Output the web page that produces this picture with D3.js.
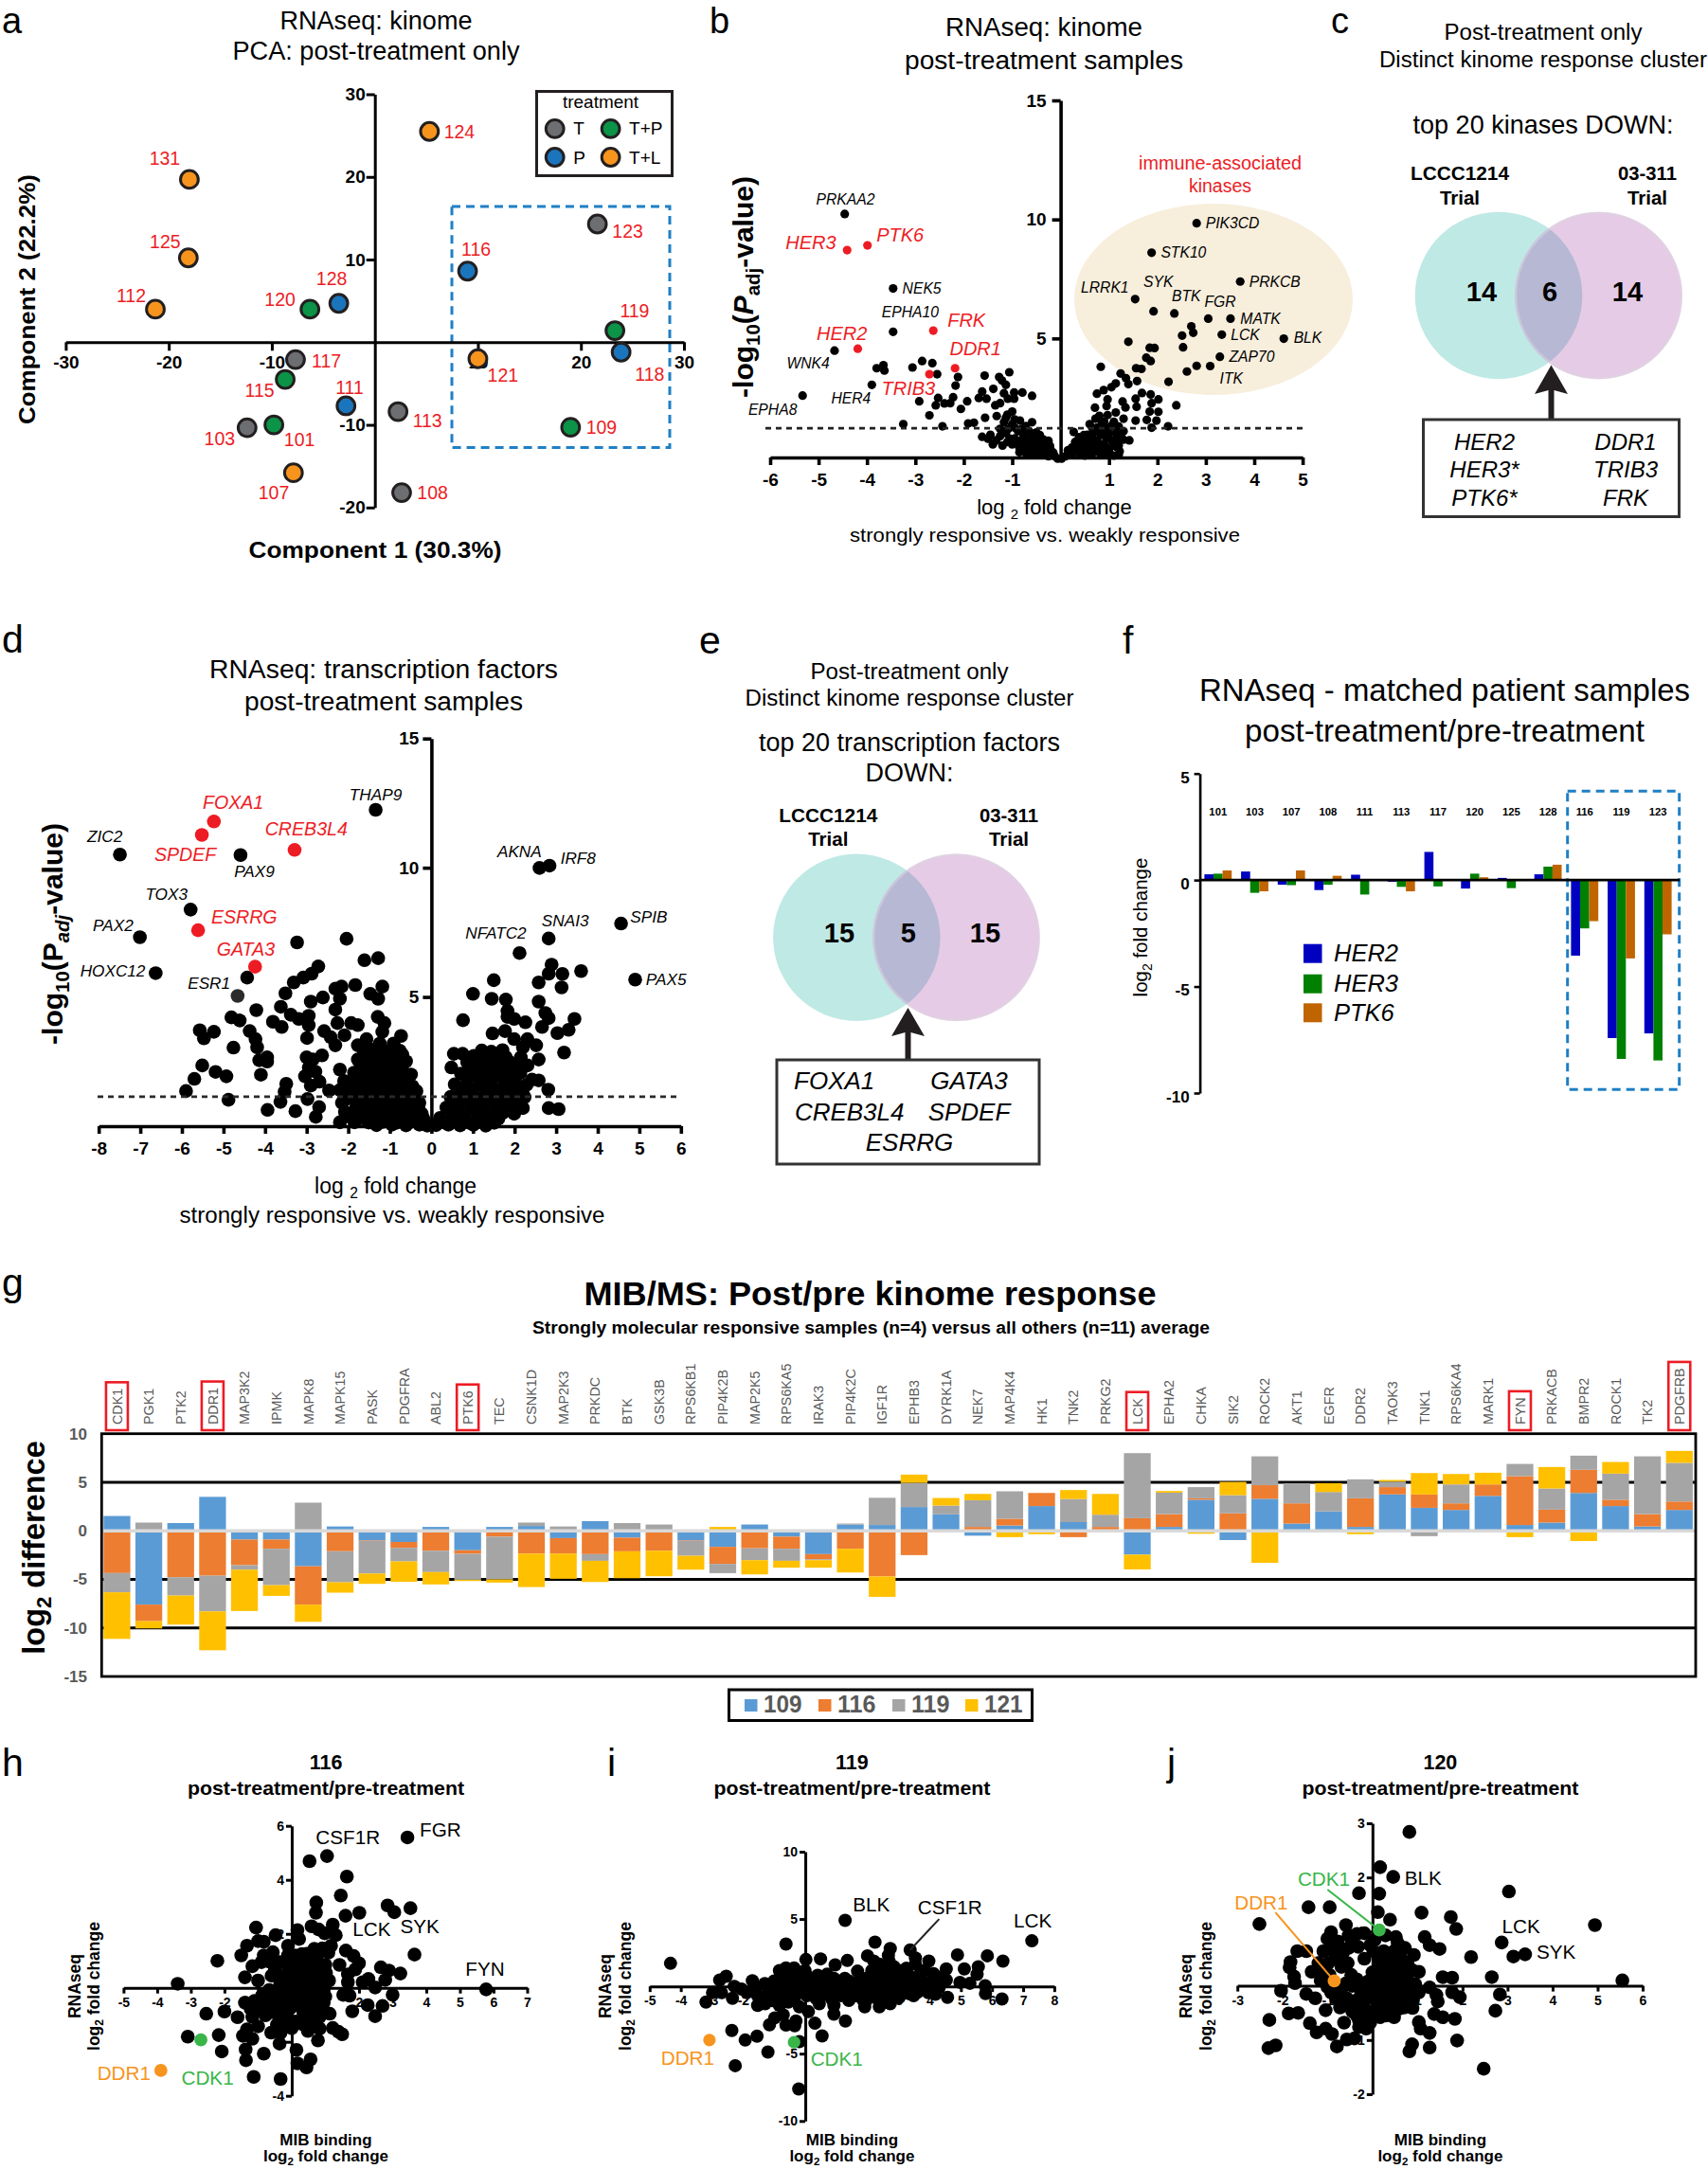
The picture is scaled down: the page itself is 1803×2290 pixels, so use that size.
<!DOCTYPE html>
<html><head><meta charset="utf-8">
<script src="https://cdn.jsdelivr.net/npm/d3@7"></script>
<style>html,body{margin:0;padding:0;background:#fff}svg{display:block;font-family:"Liberation Sans",Arial,sans-serif}</style>
</head><body><svg id="fig" width="1803" height="2290" viewBox="0 0 1803 2290"></svg>
<script>
/* ---------- DATA ---------- */
// a: PCA
const pcaSamples=["124","131","125","112","120","128","116","123","119","118","121","109","113","108","111","117","115","101","103","107"];
const pcaComp1=[5.3,-18.0,-18.1,-21.3,-6.3,-3.5,9.0,21.6,23.3,23.9,10.0,19.0,2.25,2.6,-2.8,-7.7,-8.7,-9.8,-12.4,-7.9];
const pcaComp2=[25.5,19.7,10.2,4.0,4.0,4.7,8.6,14.3,1.4,-1.2,-2.0,-10.3,-8.4,-18.2,-7.7,-2.1,-4.5,-10.0,-10.35,-15.8];
const pcaTreatment=["T+L","T+L","T+L","T+L","T+P","P","P","T","T+P","P","T+L","T+P","T","T","P","T","T+P","T+P","T","T+L"];
const treatments=["T","T+P","P","T+L"];
// b: kinome volcano
const kinomeNames=["PRKAA2","HER3","PTK6","NEK5","EPHA10","FRK","HER2","WNK4","DDR1","TRIB3","HER4","EPHA8","PIK3CD","STK10","PRKCB","LRRK1","SYK","BTK","FGR","MATK","LCK","BLK","ZAP70","ITK"];
const kinomeFC=[-4.46,-4.41,-3.99,-3.46,-3.46,-2.63,-4.19,-4.67,-2.18,-2.71,-3.90,-5.33,2.81,1.88,3.71,1.54,1.92,2.35,3.05,3.51,3.33,4.61,3.29,3.09];
const kinomeP=[10.23,8.71,8.91,7.10,5.28,5.33,4.57,4.49,3.75,3.50,3.05,2.60,9.84,8.60,7.39,6.65,6.14,6.05,5.83,5.83,5.16,4.99,4.23,3.84];
const kinomeRed=["HER3","PTK6","FRK","HER2","DDR1","TRIB3"];
const kinomeOther=[[2.70,5.51],[2.74,5.24],[2.51,5.12],[2.53,4.63],[1.40,4.86],[1.84,4.61],[1.94,4.60],[1.77,4.19],[1.86,4.05],[2.81,3.85],[2.61,3.61],[2.23,3.18],[.83,3.81],[1.56,3.75],[1.67,3.72],[1.24,3.53],[1.35,3.33],[1.58,3.21],[1.14,3.11],[1.40,3.08],[1.05,2.95],[.89,2.83],[.75,2.68],[1.68,2.71],[1.86,2.65],[1.55,2.47],[1.28,2.35],[.97,2.44],[2.02,2.44],[1.88,2.28],[2.39,2.19],[.95,2.16],[1.34,2.1],[1.57,2.13],[.71,2.09],[1.84,1.93],[2.02,1.92],[1.14,1.89],[.97,1.78],[1.3,1.63],[1.55,1.55],[1.98,1.55],[1.78,1.58],[2.22,1.31],[1.88,1.25],
[-3.80,3.75],[-3.66,3.88],[-3.64,3.65],[-3.06,3.78],[-2.86,4.05],[-2.65,3.96],[-2.55,3.5],[-2.12,3.38],[-2.17,3.02],[-2.53,2.5],[-2.22,2.53],[-2.92,2.36],[-2.58,2.19],[-2.40,2.27],[-2.28,2.28],[-1.93,2.36],[-2.06,2.04],[-2.71,1.77],[-3.25,1.40],[-2.44,1.31],[-1.91,1.43],[-1.79,1.46],[-1.57,3.44],[-1.27,3.38],[-1.06,3.58],[-1.21,3.23],[-1.13,3.05],[-1.39,2.88],[-1.62,2.77],[-1.69,2.5],[-1.53,2.47],[-1.17,2.7],[-.96,2.73],[-.79,2.73],[-.59,2.59],[-1.09,2.47],[-.96,2.47],[-1.25,2.28],[-1.35,2.19],[-1.0,1.93],[-1.32,1.74],[-1.56,1.67],[-1.13,1.67],[-1.17,1.48],[-.84,1.55],[-1.0,1.4],[-.59,1.48],[-.72,1.32],[-1.62,.87],[-1.5,.79],[-1.33,.72],[-1.13,1.02],[-1.05,.79],[-.88,1.1],[-.76,.94],[-.59,.87],[-.43,.94],[-.92,.61],[-.72,.52],[-.55,.46],[-.43,.64],[-.35,.33],[-.22,.49],[-.47,.11],[-.18,.11],[-.06,-.05],[.02,-.05],[-.3,.2],[-.62,.25],[-.85,.4],[-1.0,.55],[-.25,.05],
[-.95,1.25],[-.8,1.2],[-.65,1.1],[-.5,1.05],[-.35,.75],[-.25,.7],[-1.25,.9],[-1.1,.65],[-.95,.8],[-.8,.75],[-.65,.7],[-.5,.68],[-.85,.55],[-.7,.4],[-.6,.6],[-.45,.35],[-.35,.5],[-.2,.3],[-.15,.2],[-.12,.05],[-.4,.2],[-.55,.12],[-.7,.1],[-.85,.22],[-.78,.3],[-1.4,.55],[-1.2,.5],[-1.45,.95],[-1.25,1.2],[-1.08,1.2],[-.95,1.6],[-1.1,1.8],
[.27,1.07],[.23,.41],[.35,.56],[.48,.94],[.6,1.4],[.72,1.63],[.85,1.48],[.52,.56],[.68,1.1],[.81,1.02],[.93,1.25],[1.05,1.32],[1.14,1.02],[1.3,1.1],[1.42,.72],[1.05,.72],[.89,.56],[.72,.33],[1.22,.26],[.81,.18],[.56,.18],[.4,.18],[.19,.11],[1.01,.18],[.6,.79],[.44,.72],[.89,.94],[.3,.25],[.62,.42],[.76,.72],[1.15,.45],[.1,.05],
[.15,.3],[.28,.4],[.35,.3],[.45,.45],[.5,.3],[.6,.55],[.68,.6],[.75,.45],[.85,.4],[.95,.42],[1.1,.5],[1.2,.5],[1.3,.75],[.55,.95],[.65,.9],[.75,1.25],[.85,1.2],[1.0,1.0],[.95,.8],[1.15,.75],[1.25,.88],[.65,1.25],[.8,1.75],[.9,1.5],[1.1,1.5],[1.2,1.3],[.38,.85],[.3,.65],[.15,.18],[.25,.12],[.5,.08],[.65,.15],[.9,.1],[1.1,.08],[1.2,.1],[1.0,.35]];
// d: transcription factor volcano
const tfNames=["THAP9","FOXA1","SPDEF","CREB3L4","ZIC2","PAX9","AKNA","IRF8","TOX3","ESRRG","PAX2","SNAI3","SPIB","NFATC2","GATA3","HOXC12","PAX5","ESR1"];
const tfFC=[-1.34,-5.23,-5.52,-3.29,-7.49,-4.59,2.6,2.84,-5.79,-5.61,-7.01,2.82,4.56,2.12,-4.24,-6.63,4.9,-4.66];
const tfP=[12.24,11.79,11.27,10.69,10.51,10.49,9.99,10.08,8.38,7.58,7.31,7.26,7.84,6.7,6.17,5.92,5.67,5.04];
const tfRed=["FOXA1","SPDEF","CREB3L4","ESRRG","GATA3"];
const tfOther=[[-3.23,7.11],[-2.04,7.25],[-4.43,5.75],[-1.61,6.42],[-1.28,6.5],[-2.72,6.18],[-2.88,5.9],[-3.08,5.75],[-3.31,5.56],[-3.51,5.14],[-2.61,4.98],[-2.9,4.82],[-2.31,5.32],[-2.16,5.4],[-1.83,5.46],[-1.18,5.4],[-1.47,5.12],[-1.28,4.93],[-2.2,4.93],[-2.31,4.51],[-3.62,4.62],[-4.21,4.49],[-4.81,4.21],[-4.61,4.09],[-3.81,4.04],[-3.38,4.31],[-3.19,4.15],[-2.95,4.27],[-3.6,3.84],[-2.95,3.91],[-2.26,3.99],[-1.93,3.99],[-1.77,3.91],[-1.29,4.23],[-1.13,3.99],[-1.18,3.65],[-2.58,3.68],[-2.42,3.44],[-2.09,3.52],[-2.31,3.13],[-2.99,3.41],[-4.37,3.68],[-5.57,3.71],[-5.23,3.65],[-5.47,3.4],[-4.23,3.37],[-4.19,3.05],[-4.76,3.04],[-3.95,2.66],[-4.14,2.55],[-3.95,2.5],[-5.51,2.35],[-5.19,2.1],[-4.93,1.93],[-5.7,1.83],[-5.9,1.36],[-4.1,1.99],[-4.88,1.02],[-3.94,.63],[-3.63,.94],[-3.49,1.64],[-3.53,1.33],[-3.27,.58],[-2.78,.36],[-2.7,.74],[-2.98,1.05],[-2.46,1.38],[-3.04,1.93],[-2.9,1.57],[-3.0,2.66],[-2.63,2.74],[-2.85,2.58],[-2.95,2.27],[-2.79,2.11],[-2.69,1.72],[-.73,3.49],[-.91,3.2],[-1.77,3.13],[-1.56,3.37],[-1.24,3.2],[-.7,2.77],[-1.02,2.9],[-1.45,2.97],[-1.77,2.58],[-2.2,2.19],[-2.1,1.75],[-2.2,1.4],[-2.05,1.05],[-2.08,.55],
[-1.62,2.88],[-1.3,2.94],[-.98,2.86],[-.76,2.92],[-1.74,2.52],[-1.43,2.47],[-1.16,2.55],[-.84,2.48],[-.61,2.51],[-1.86,2.07],[-1.56,2.02],[-1.24,2.09],[-.96,2.03],[-.66,2.06],[-.49,2.0],[-1.93,1.62],[-1.66,1.58],[-1.36,1.64],[-1.04,1.57],[-.74,1.62],[-.46,1.55],[-1.9,1.17],[-1.61,1.13],[-1.29,1.18],[-1.01,1.12],[-.69,1.16],[-.41,1.11],[-1.81,.72],[-1.49,.68],[-1.21,.73],[-.9,.67],[-.62,.71],[-.31,.68],[-1.69,.31],[-1.36,.28],[-1.04,.33],[-.76,.27],[-.44,.31],[-.19,.29],[-1.32,.04],[-.95,.06],[-.61,.03],[-.29,.06],[-.1,.02],
[-1.5,2.72],[-1.18,2.68],[-.94,2.74],[-.7,2.66],[-1.59,2.28],[-1.31,2.32],[-1.02,2.27],[-.71,2.31],[-1.71,1.83],[-1.41,1.87],[-1.09,1.82],[-.81,1.86],[-.56,1.81],[-1.79,1.38],[-1.51,1.42],[-1.19,1.37],[-.91,1.41],[-.59,1.38],[-.36,1.36],[-1.76,.93],[-1.44,.97],[-1.16,.92],[-.84,.96],[-.56,.93],[-.29,.91],[-1.64,.51],[-1.36,.48],[-1.06,.52],[-.74,.47],[-.46,.51],[-.23,.48],[-1.51,.14],[-1.16,.17],[-.84,.13],[-.51,.16],[-.2,.13],[-2.0,1.3],[-2.15,.9],[-1.95,.35],[-2.2,.15],[-1.85,.15],
[3.6,6.0],[2.89,6.25],[2.82,5.9],[3.15,5.89],[2.58,5.56],[3.13,5.37],[1.5,5.65],[1.0,5.12],[1.45,4.93],[1.79,4.9],[2.58,4.82],[2.74,4.38],[1.83,4.46],[1.83,4.23],[1.99,4.15],[2.26,4.02],[.76,4.1],[2.82,4.18],[2.66,3.84],[3.44,4.15],[3.3,3.73],[3.03,3.6],[3.19,2.85],[1.47,3.59],[1.77,3.68],[1.99,3.37],[2.31,3.37],[2.52,3.13],[2.2,3.05],[2.58,2.58],[2.31,2.35],[2.15,2.66],[.54,2.8],[.75,2.8],[.48,2.27],[2.42,1.8],[2.58,1.77],[2.81,1.41],[2.82,.7],[3.06,.66],[2.2,.7],[1.93,.78],[1.45,.23],
[1.21,2.93],[1.44,2.88],[1.71,2.94],[.86,2.47],[1.12,2.53],[1.38,2.46],[1.66,2.52],[1.89,2.47],[.71,2.03],[1.02,2.08],[1.28,2.02],[1.61,2.07],[1.88,2.01],[2.14,2.06],[.56,1.62],[.84,1.57],[1.16,1.63],[1.44,1.58],[1.76,1.61],[2.04,1.56],[2.29,1.6],[.46,1.13],[.74,1.17],[1.06,1.12],[1.34,1.16],[1.66,1.13],[1.94,1.17],[2.24,1.12],[.36,.72],[.64,.68],[.96,.71],[1.24,.67],[1.56,.72],[1.84,.68],[.21,.32],[.49,.28],[.81,.31],[1.09,.27],[1.41,.32],[1.61,.29],[.11,.04],[.41,.06],[.69,.03],[1.01,.05],[1.31,.02],
[1.02,2.72],[1.29,2.68],[1.56,2.73],[1.79,2.67],[.94,2.28],[1.26,2.33],[1.51,2.27],[1.79,2.32],[2.06,2.28],[.86,1.83],[1.14,1.87],[1.46,1.82],[1.74,1.86],[2.01,1.83],[.71,1.38],[.99,1.42],[1.31,1.37],[1.59,1.41],[1.91,1.38],[2.19,1.36],[.61,.93],[.89,.97],[1.21,.92],[1.49,.96],[1.81,.93],[2.09,.91],[.51,.51],[.79,.48],[1.11,.52],[1.39,.47],[1.71,.51],[1.99,.48],[.31,.14],[.59,.17],[.91,.13],[1.19,.16],[1.51,.13]];
// f: matched bars
const matchedSamples=["101","103","107","108","111","113","117","120","125","128","116","119","123"];
const matchedHER2=[.27,.4,-.22,-.47,.25,-.08,1.32,-.4,.1,.27,-3.55,-7.42,-7.2];
const matchedHER3=[.3,-.6,-.24,-.22,-.68,-.32,-.3,.3,-.38,.63,-2.27,-8.4,-8.47];
const matchedPTK6=[.45,-.53,.45,.2,0,-.53,0,.13,-.04,.72,-1.93,-3.68,-2.55];
const matchedSeries=["HER2","HER3","PTK6"];
// g: MIB/MS stacked bars
const mibGenes=["CDK1","PGK1","PTK2","DDR1","MAP3K2","IPMK","MAPK8","MAPK15","PASK","PDGFRA","ABL2","PTK6","TEC","CSNK1D","MAP2K3","PRKDC","BTK","GSK3B","RPS6KB1","PIP4K2B","MAP2K5","RPS6KA5","IRAK3","PIP4K2C","IGF1R","EPHB3","DYRK1A","NEK7","MAP4K4","HK1","TNK2","PRKG2","LCK","EPHA2","CHKA","SIK2","ROCK2","AKT1","EGFR","DDR2","TAOK3","TNK1","RPS6KA4","MARK1","FYN","PRKACB","BMPR2","ROCK1","TK2","PDGFRB"];
const mibBoxed=["CDK1","DDR1","PTK6","LCK","FYN","PDGFRB"];
const mib109=[1.53,-7.6,.8,3.5,-.9,-.9,-3.65,.45,-1.0,-1.15,.4,-2.0,.4,.5,-.75,1.0,-.7,0,-1.0,-1.65,.65,-.6,-2.4,.65,.6,2.45,1.7,-.5,.55,2.55,.9,0,-2.45,.4,3.2,-.95,3.3,.75,2.0,.4,3.75,2.37,2.15,3.6,.6,.85,3.9,2.55,.45,2.15];
const mib116=[-4.35,-1.7,-4.78,-4.62,-2.64,-.95,-3.95,-2.1,-.05,-.6,-2.05,-.37,-.6,-2.35,-1.59,-2.4,-1.41,-2.05,-.05,-1.76,-1.8,-1.25,-.53,-1.85,-4.7,-2.5,-.15,.4,.69,1.35,-.65,.4,1.3,1.32,.15,1.8,1.4,2.08,0,2.95,.75,1.37,.68,1.18,5.03,1.33,2.38,.65,1.27,.87];
const mib119=[-1.98,.85,-1.89,-3.68,-.46,-3.75,2.9,-3.2,-3.35,-1.4,-2.2,-2.67,-4.4,.35,.45,-.69,.8,.65,-1.52,-.95,-1.22,-1.24,-.09,.1,2.8,2.49,.9,2.75,2.83,0,2.38,1.26,6.7,2.21,1.15,1.87,2.97,2.07,2.0,1.95,.57,-.55,1.95,0,1.26,2.18,1.46,2.69,5.95,3.98];
const mib121=[-4.8,-.75,-2.99,-4.0,-4.26,-1.1,-1.77,-1.07,-1.06,-2.1,-1.27,-.13,-.33,-3.44,-2.6,-2.18,-2.77,-2.63,-1.43,.4,-1.47,-.71,-.78,-2.44,-2.1,.85,.78,.65,-.65,-.35,.92,2.14,-1.52,.17,-.3,1.37,-3.3,0,.9,-.35,.17,2.21,1.07,1.2,-.65,2.21,-1.05,1.2,0,1.23];
const mibSamples=["109","116","119","121"];
// h: sample 116
const s116Named=["FGR","CSF1R","FYN"], s116NamedX=[3.44,1.05,5.78], s116NamedY=[5.57,4.88,-.06];
const s116Highlight=[["DDR1",-3.89,-3.06],["CDK1",-2.7,-1.93]];
const s116Other=[[.53,4.69],[1.64,4.12],[1.46,3.42],[.73,3.16],[.72,2.78],[1.6,2.67],[2.01,2.78],[2.85,3.05],[3.05,2.8],[3.53,2.95],[3.65,1.23],[-3.39,.15],[-2.21,1.0],[-1.06,2.23],[-.48,1.95],[.17,2.14],[.22,1.81],[.59,2.28],[.8,2.16],[.98,2.02],[1.22,2.34],[1.31,1.95],[-1.0,1.73],[-.83,1.71],[-1.33,1.56],[-1.5,1.2],[-.11,1.56],[1.17,1.56],[1.09,1.3],[.67,1.44],[.44,1.26],[.91,1.46],[1.61,1.38],[1.84,1.18],[2.0,.91],[1.89,.68],[1.42,.85],[2.65,.76],[2.89,.64],[3.23,.53],[2.78,.29],[2.28,.33],[2.11,.21],[2.48,.01],[1.67,.5],[1.67,.21],[3.0,-.26],[2.26,-.64],[2.7,-.67],[2.48,-1.05],[1.8,-.87],[1.53,-.26],[1.72,-.29],[1.13,-.96],[1.22,-1.49],[1.5,-1.72],[1.39,-1.63],[.78,-1.95],[.83,-1.51],[.61,-1.45],[.14,-2.3],[.56,-2.65],[.17,-2.8],[.44,-2.95],[-.33,-3.38],[-1.13,-3.3],[-.83,-2.44],[-1.36,-2.68],[-1.37,-2.28],[-2.08,-2.36],[-2.17,-1.75],[-3.09,-1.81],[-2.54,-.96],[-2.0,-.88],[-1.61,-1.09],[-1.45,-1.78],[-1.17,-1.89],[-1.33,-1.54],[-.36,-2.07],[-.61,-1.66],[-.33,-1.66],[-1.0,-1.43],[-.78,-1.02],[-1.17,-1.08],[-1.39,-.55],[-1.11,-.49],[-1.22,-.78],[-1.39,.39],[-1.17,.8],[-1.0,.27],[-.83,1.2],[-.56,1.32],[-.67,.97],[-.5,.68],[-.39,.39],[-.11,1.2],[.11,1.2],[-.11,.8],[.11,.85],[.33,.62],[.56,.85],[.78,.97],[1.0,.85],[.22,.27],[.44,.15],[.67,.39],[.89,.5],[1.11,.27],[-.67,-.08],[-.33,-.32],[-.56,-.55],[-.11,-.2],[.22,-.2],[.44,-.2],[.78,-.14],[1.0,-.32],[-.33,-.67],[-.06,-.78],[.22,-.67],[.56,-.67],[.89,-.67],[-.56,-.9],[-.22,-1.13],[.11,-1.25],[.56,-1.13],[.83,-1.08],[-.44,-1.37],[-.88,-.28],[-.2,.45],[.3,.55],[.55,.3],[.72,.1],[.3,-.45],[.6,-.4],[.4,.95],[-.35,.95],[-.9,.95],[.0,.1],[-.15,-.5],[.75,.55],[.2,1.0],
[.05,.55],[.3,.2],[.12,-.05],[.55,.05],[.92,.15],[.95,-.1],[.62,-.18],[.35,-.95],[.68,-.88],[.05,-.45],[-.15,-.95],[.32,-1.35],[.68,-1.3],[-.6,-.25],[-.35,.1],[-.6,.45],[.95,-.55],[.72,-.95],[1.02,.55],[.45,.6],[.25,.9],[-.1,.25],[-.4,-1.0],[-.72,-.65],[-.95,-.75],[.0,-1.5],[-.25,-1.45],[.48,-1.6],[.3,1.25],[.75,1.25]];
// i: sample 119
const s119Named=["BLK","CSF1R","LCK"], s119NamedX=[1.28,3.37,7.28], s119NamedY=[4.9,2.7,3.38];
const s119Highlight=[["DDR1",-3.08,-3.99],["CDK1",-.36,-4.15]];
const s119Other=[[2.24,3.28],[-.62,3.14],[-4.33,1.71],[2.73,2.81],[4.89,2.34],[5.85,2.27],[6.35,1.88],[.49,2.04],[.02,1.99],[1.35,1.92],[.96,1.59],[2.0,2.27],[2.67,2.3],[3.54,2.11],[3.97,1.88],[1.68,1.13],[4.53,1.29],[5.11,1.29],[5.56,1.45],[5.52,.89],[4.53,.47],[4.97,.3],[5.29,.23],[5.78,.05],[5.79,-.54],[6.32,-.94],[4.57,-.82],[4.18,-.59],[1.29,-2.58],[.92,-2.06],[.31,-2.74],[.54,-3.68],[.1,-1.88],[-.19,-1.52],[-.3,-2.58],[-.34,-2.93],[-.62,-2.88],[-.71,-2.11],[-.98,-2.34],[-1.15,-2.86],[-1.55,-3.7],[-1.93,-3.99],[-2.36,-3.28],[-1.2,-4.88],[-2.25,-5.89],[-.21,-7.62],[-.19,-4.1],[-2.75,.47],[-2.54,.75],[-2.28,0],[-1.7,.42],[-2.98,-.47],[-3.19,-1.17],[-2.69,-.47],[-2.34,-.89],[-1.88,-.47],[-1.53,-.7],[-1.53,-1.41],[-1.29,-1.29],[-1.06,-1.06],[-.83,-1.41],[-.54,-1.17],[-1.0,0],[-.83,1.17],[-.62,1.36],[-.36,1.36],[-.83,.59],[-.54,.59],[-.3,.7],[-.01,1.17],[.4,.82],[.16,.23],[.57,.23],[.92,.59],[1.27,.59],[1.15,0],[1.5,.12],[1.85,0],[2.2,1.88],[2.38,1.64],[2.14,1.17],[2.55,.82],[3.02,1.17],[3.37,.7],[3.54,1.64],[3.83,1.17],[4.12,.94],[4.36,.7],[2.9,.35],[2.55,0],[2.2,.23],[3.25,0],[3.6,-.12],[3.95,0],[-1.18,-.47],[-.71,-.47],[-.24,-.47],[.22,-.47],[.69,-.59],[1.15,-.7],[1.62,-.7],[1.91,-1.52],[2.38,-1.52],[2.09,-.82],[2.73,-1.29],[3.02,-.82],[3.48,-.7],[3.95,-.47],[.92,-1.41],[.45,-1.29],[.05,-.7],[2.73,-.47],[3.19,-.47],[-1.3,.2],[-.6,.1],[-.2,.1],[.4,-.05],[.8,-.1],[1.35,-.35],[1.75,-.25],[2.35,-.3],[2.9,.85],[3.1,.25],[3.7,.5],[4.1,.4],[2.6,1.4],[3.25,1.35],[3.7,.95],[-2.05,-.2],[-1.65,-.2],[-.95,-.75],[-.55,-.85],[1.9,.55],[2.4,.5],[3.35,-.55],[4.3,-.1],[2.7,1.85],[.1,.7],[.7,.9],[-.1,-.15],
[-1.4,-.85],[-.85,-1.0],[-.35,-.95],[.35,-.9],[.85,-.95],[1.4,-1.05],[1.85,-1.0],[2.35,-1.0],[-.75,.95],[-.45,1.0],[-.6,.3],[-.3,.25],[.05,.35],[.35,.45],[.75,.3],[1.05,.35],[1.4,.4],[1.7,.35],[2.05,.7],[2.35,1.05],[2.7,.45],[3.0,.55],[3.3,.35],[3.55,.2],[3.85,.25],[2.45,-.65],[2.85,-.4],[3.15,-.1],[1.0,-.35],[.5,-.25],[.05,-.3],[-.45,-.2],[-.85,-.2],[-1.55,-.05],[1.55,-.4],[1.95,-.45],[2.2,-.6],[3.6,-.45],[3.3,.9],[2.85,1.45],[2.35,.4],[.25,.4],[-1.0,.4]];
// j: sample 120
const s120Named=["BLK","SYK"], s120NamedX=[.46,3.39], s120NamedY=[2.01,.58];
const s120Highlight=[["DDR1",-.85,.09],["CDK1",.15,1.03]];
const s120Other=[[.82,2.84],[.17,2.19],[3.03,1.74],[-.3,1.71],[.15,1.7],[-1.42,1.45],[-.95,1.45],[.12,1.36],[.39,1.22],[1.09,1.35],[1.74,1.27],[1.86,1.05],[-2.51,1.14],[4.94,1.12],[-.59,1.12],[-.92,.99],[2.87,.8],[3.13,.54],[2.19,.53],[1.16,.9],[1.27,.75],[1.49,.68],[.92,.57],[.56,.79],[.72,.7],[.64,.5],[2.65,.16],[5.55,.1],[1.56,.16],[1.77,.15],[2.83,-.16],[2.73,-.46],[1.94,-.21],[1.77,-.12],[1.45,-.29],[1.27,-.03],[1.42,-.17],[.89,-.41],[1.37,-.52],[1.56,-.58],[1.83,-.61],[.48,-.58],[1.03,-.67],[1.07,-.79],[1.27,-.87],[1.88,-1.01],[.88,-1.08],[.82,-1.21],[1.27,-1.14],[2.47,-1.53],[-2.31,-1.15],[-2.15,-1.1],[-2.29,-.63],[-1.86,-.51],[-1.65,-.5],[-1.39,-.69],[-1.24,-.86],[-1.04,-.79],[-.9,-.89],[-.63,-.68],[-1.04,-.45],[-.79,-1.12],[-.57,-.99],[-.4,-.97],[-2.03,-.09],[-1.72,.05],[-1.74,.17],[-1.82,.44],[-1.84,.34],[-1.67,.64],[-1.47,.64],[-1.35,.26],[-1.47,-.15],[-1.27,-.23],[-1.09,.64],[-1.0,.87],[-.77,.82],[-.8,.52],[-.69,.35],[-.47,.2],[-.53,.93],[-.34,.96],[-.18,.97],[-.53,.7],[-.18,.5],[.02,.64],[.25,.64],[.29,.93],[.17,.35],[.37,.41],[.56,.29],[.88,.29],[1.03,.26],[.02,.17],[.25,.15],[.48,.12],[.72,.15],[.95,.03],[.09,-.06],[.33,-.09],[.56,-.06],[.8,-.12],[1.03,-.12],[-.45,0],[-.69,-.06],[-.22,-.03],[-.92,-.12],[-.57,-.23],[-.34,-.26],[-.14,-.23],[.09,-.29],[.33,-.29],[.56,-.26],[-.81,-.23],[-.45,-.47],[-.22,-.47],[.02,-.47],[.25,-.44],[.48,-.41],[-.3,-.64],[-.1,-.64],[-.3,-.76],[-.14,-.79],[.17,-.58],[-1.2,.42],[-.95,.2],[-1.15,.1],[-.98,.42],[-.55,.42],[.15,.5],[.4,.6],[.05,.85],[.4,-.2],[-.72,-.4],[-.58,.05],[.7,-.4],[-.9,.65],[.48,.48],
[.0,.25],[.28,.25],[.62,.38],[.78,.4],[.22,.02],[.62,.02],[.85,.05],[-.1,.08],[-.35,.12],[-.78,-.05],[-.25,-.12],[-.05,-.12],[.2,-.18],[.45,-.15],[.68,-.2],[.9,-.25],[-.68,-.32],[-.45,-.3],[-.2,-.35],[.2,-.38],[.38,-.42],[.6,-.42],[-.35,-.55],[-.1,-.5],[.1,-.45],[.3,-.55],[.45,-.3],[-.05,-.68],[.1,.12],[.45,.3],[.7,.28],[.3,.52],[.5,.65],[-.32,.72],[-.65,.62],[-.45,.82],[-.05,.75],[.52,.9],[-1.1,.25],[-1.0,-.02]];
const s120Lck=[2.87,.8];

/* ---------- HELPERS ---------- */
const svg=d3.select("#fig");
const RED="#ed1c24",ORANGE="#f7941d",GREEN="#39b54a",BLUEDASH="#1f7fc4";
function T(g,s,x,y,o={}){
  const t=g.append("text").attr("x",x).attr("y",y).attr("font-size",o.size||16)
    .attr("text-anchor",o.anchor||"middle").attr("fill",o.fill||"#000");
  if(o.bold)t.attr("font-weight","bold");
  if(o.italic)t.attr("font-style","italic");
  if(o.rot)t.attr("transform",`rotate(${o.rot} ${x} ${y})`);
  if(o.dy)t.attr("dy",o.dy);
  if(typeof s==="string"){t.text(s);if(o.w)t.attr("textLength",o.w).attr("lengthAdjust","spacingAndGlyphs");}
  else{
    let shift=0;const sz=o.size||16;
    s.forEach(seg=>{
      const sp=t.append("tspan").text(seg.t);
      let d=-shift;
      if(seg.sub){sp.attr("font-size",sz*.68);shift=sz*.22;d+=shift;}else shift=0;
      if(d)sp.attr("dy",d);
      if(seg.italic)sp.attr("font-style","italic");
    });
  }
  return t;
}
function styleAxis(sel,w,size,bold=true){
  sel.selectAll("path.domain,line").attr("stroke","#000").attr("stroke-width",w);
  sel.selectAll("text").attr("font-size",size).attr("font-weight",bold?"bold":"normal").attr("fill","#000").attr("font-family",'"Liberation Sans"');
}
function dots(g,data,x,y,r,fill){
  g.selectAll(null).data(data).join("circle").attr("cx",d=>x(d[0])).attr("cy",d=>y(d[1])).attr("r",r).attr("fill",fill);
}
const fmt=d=>String(d);
const letters=[["a",2,35,38],["b",749,35,38],["c",1405,35,38],["d",2,689,41],["e",738,690,41],["f",1185,690,41],["g",2,1368,41],["h",2,1875,41],["i",641,1875,41],["j",1232,1875,41]];
letters.forEach(l=>T(svg,l[0],l[1],l[2],{size:l[3],anchor:"start"}));

/* ---------- PANEL a ---------- */
(function(){
  const g=svg.append("g");
  const x=d3.scaleLinear().domain([-30,30]).range([69.4,722]);
  const y=d3.scaleLinear().domain([-20,30]).range([535.8,99.5]);
  T(g,"RNAseq: kinome",397,31,{size:27,w:203});
  T(g,"PCA: post-treatment only",397,63,{size:27,w:303});
  g.append("rect").attr("x",477).attr("y",218).attr("width",230).attr("height",254.6).attr("fill","none").attr("stroke",BLUEDASH).attr("stroke-width",3).attr("stroke-dasharray","9 6");
  const ax=g.append("g").attr("transform",`translate(0,${y(0)})`).call(d3.axisBottom(x).tickValues([-30,-20,-10,10,20,30]).tickSize(9).tickSizeOuter(0).tickPadding(5).tickFormat(fmt));
  styleAxis(ax,3,19);
  const ay=g.append("g").attr("transform",`translate(${x(0)},0)`).call(d3.axisLeft(y).tickValues([-20,-10,10,20,30]).tickSize(9).tickSizeOuter(0).tickPadding(1).tickFormat(fmt));
  styleAxis(ay,3,19);
  T(g,"Component 1 (30.3%)",396,589,{size:24,bold:true,w:267});
  T(g,"Component 2 (22.2%)",37,316,{size:24,bold:true,w:264,rot:-90});
  const col=d3.scaleOrdinal().domain(treatments).range(["#6d6e71","#0b9347","#1b75bc","#f7941d"]);
  g.selectAll(null).data(pcaSamples).join("circle").attr("cx",(d,i)=>x(pcaComp1[i])).attr("cy",(d,i)=>y(pcaComp2[i])).attr("r",9.4).attr("fill",(d,i)=>col(pcaTreatment[i])).attr("stroke","#231f20").attr("stroke-width",3);
  const off={"124":[31.6,0],"131":[-26,-21.8],"125":[-24.5,-17.2],"112":[-25.5,-14.2],"120":[-31.6,-10.7],"128":[-7.5,-26.4],"116":[9,-23.3],"123":[32,7.3],"119":[20.8,-20.7],"118":[30.2,23.7],"121":[26.4,17.2],"109":[32.6,0],"113":[31,9.2],"108":[32.6,0],"111":[3.8,-19],"117":[32.6,1.1],"115":[-27,11.9],"101":[27,16],"103":[-29,11.9],"107":[-20.8,21]};
  pcaSamples.forEach((s,i)=>T(g,s,x(pcaComp1[i])+off[s][0],y(pcaComp2[i])+off[s][1],{size:19.5,fill:RED,dy:".35em"}));
  g.append("rect").attr("x",566.5).attr("y",96.5).attr("width",143).attr("height",89).attr("fill","#fff").attr("stroke","#231f20").attr("stroke-width",3);
  T(g,"treatment",634,114,{size:19,w:80});
  const lg=[[585.7,135.9],[644.6,135.9],[585.7,166],[644.6,166]];
  treatments.forEach((t,i)=>{
    g.append("circle").attr("cx",lg[i][0]).attr("cy",lg[i][1]).attr("r",9.4).attr("fill",col(t)).attr("stroke","#231f20").attr("stroke-width",3);
    T(g,t,lg[i][0]+19.5,lg[i][1]+6.5,{size:19,anchor:"start"});
  });
})();

/* ---------- PANEL b ---------- */
(function(){
  const g=svg.append("g");
  const x=d3.scaleLinear().domain([-6,5]).range([1119.6-6*51.1,1119.6+5*51.1]);
  const y=d3.scaleLinear().domain([0,15]).range([483,106]);
  g.append("ellipse").attr("cx",1281).attr("cy",316).attr("rx",147).attr("ry",101).attr("fill","#f7eedc");
  T(g,"RNAseq: kinome",1102,38,{size:27,w:208});
  T(g,"post-treatment samples",1102,72.5,{size:27,w:294});
  T(g,"immune-associated",1288,179,{size:19.5,fill:RED,w:172});
  T(g,"kinases",1288,203,{size:19.5,fill:RED});
  const ax=g.append("g").attr("transform",`translate(0,${y(0)})`).call(d3.axisBottom(x).tickValues([-6,-5,-4,-3,-2,-1,1,2,3,4,5]).tickSize(8).tickSizeOuter(0).tickPadding(9).tickFormat(fmt));
  styleAxis(ax,3.6,19);
  const ay=g.append("g").attr("transform",`translate(${x(0)},0)`).call(d3.axisLeft(y).tickValues([5,10,15]).tickSize(9).tickSizeOuter(0).tickPadding(6).tickFormat(fmt));
  styleAxis(ay,3.6,19);
  dots(g,kinomeOther,x,y,4.6,"#000");
  const off={PRKAA2:[.8,-15.7],HER3:[-38.3,-8.4],PTK6:[34.5,-10.7],NEK5:[30.3,0],EPHA10:[18,-21],FRK:[35,-10.7],HER2:[-16.8,-16.5],WNK4:[-27.8,13],DDR1:[21.5,-20.7],TRIB3:[-22.3,14.5],HER4:[-21.9,14.2],EPHA8:[-31.6,15],PIK3CD:[37.9,0],STK10:[33.7,0],PRKCB:[36.6,0],LRRK1:[-32,-12.6],SYK:[5,-31.4],BTK:[12.6,-18.4],FGR:[12.6,-17.6],MATK:[31.6,0],LCK:[24.8,0],BLK:[25.3,-1.5],ZAP70:[33.7,0],ITK:[22.3,12.6]};
  kinomeNames.forEach((n,i)=>{
    const red=kinomeRed.includes(n);
    g.append("circle").attr("cx",x(kinomeFC[i])).attr("cy",y(kinomeP[i])).attr("r",4.6).attr("fill",red?RED:"#000");
    T(g,n,x(kinomeFC[i])+off[n][0],y(kinomeP[i])+off[n][1],{size:red?20:15.7,italic:true,fill:red?RED:"#000",dy:".35em"});
  });
  g.append("line").attr("x1",808).attr("x2",1375).attr("y1",y(1.23)).attr("y2",y(1.23)).attr("stroke","#222").attr("stroke-width",2.6).attr("stroke-dasharray","6 5");
  T(g,[{t:"log "},{t:"2",sub:true},{t:" fold change"}],1113,543,{size:22});
  T(g,"strongly responsive vs. weakly responsive",1103,572,{size:21,w:412});
  T(g,[{t:"-log"},{t:"10",sub:true},{t:"("},{t:"P",italic:true},{t:"adj",sub:true},{t:"-value)"}],795,303,{size:30,bold:true,rot:-90});
})();

/* ---------- PANELS c, e ---------- */
function venn(g,id,c){
  g.append("circle").attr("cx",c.lx).attr("cy",c.cy).attr("r",c.r).attr("fill","#bfe9e5");
  g.append("circle").attr("cx",c.rx).attr("cy",c.cy).attr("r",c.r).attr("fill","#e5cbe5");
  g.append("clipPath").attr("id",id).append("circle").attr("cx",c.lx).attr("cy",c.cy).attr("r",c.r);
  g.append("circle").attr("cx",c.rx).attr("cy",c.cy).attr("r",c.r).attr("fill","#b6b8d4").attr("clip-path",`url(#${id})`);
  g.append("circle").attr("cx",c.rx).attr("cy",c.cy).attr("r",c.r-1).attr("fill","none").attr("stroke","#ddd6e2").attr("stroke-width",2.5).attr("opacity",.5);
  c.counts.forEach((n,i)=>T(g,String(n),c.numX[i],c.numY,{size:29,bold:true}));
  T(g,"LCCC1214",c.tlx,c.t1,{size:20.8,bold:true,w:104});
  T(g,"Trial",c.tlx,c.t2,{size:20.5,bold:true});
  T(g,"03-311",c.trx,c.t1,{size:20.5,bold:true,w:62});
  T(g,"Trial",c.trx,c.t2,{size:20.5,bold:true});
  g.append("polygon").attr("points",`${c.ax},${c.atip} ${c.ax+17.5},${c.abase} ${c.ax+3},${c.abase-4} ${c.ax+3},${c.boxTop} ${c.ax-3},${c.boxTop} ${c.ax-3},${c.abase-4} ${c.ax-17.5},${c.abase}`).attr("fill","#231f20");
  g.append("rect").attr("x",c.bx).attr("y",c.boxTop).attr("width",c.bw).attr("height",c.bh).attr("fill","#fff").attr("stroke","#333").attr("stroke-width",3);
}
(function(){
  const g=svg.append("g");
  T(g,"Post-treatment only",1629,42,{size:23,w:209});
  T(g,"Distinct kinome response cluster",1629,71,{size:23,w:346});
  T(g,"top 20 kinases DOWN:",1629,141,{size:28,w:275});
  const vennKinomeCounts=[14,6,14];
  venn(g,"vc",{lx:1582,rx:1687.5,cy:312,r:88.3,counts:vennKinomeCounts,numX:[1564,1636,1718],numY:318,tlx:1541,trx:1739,t1:190,t2:215.5,ax:1637.5,atip:385.5,abase:416,boxTop:443,bx:1502.5,bw:270,bh:102.5});
  const rows=[["HER2","DDR1"],["HER3*","TRIB3"],["PTK6*","FRK"]];
  rows.forEach((r,i)=>{const yy=[475,504,533.6][i];T(g,r[0],1567,yy,{size:24,italic:true});T(g,r[1],1716,yy,{size:24,italic:true});});
})();
(function(){
  const g=svg.append("g");
  T(g,"Post-treatment only",960,716.5,{size:23,w:209});
  T(g,"Distinct kinome response cluster",960,745,{size:23,w:347});
  T(g,"top 20 transcription factors",960,793,{size:27,w:318});
  T(g,"DOWN:",960,825,{size:27});
  const vennTfCounts=[15,5,15];
  venn(g,"ve",{lx:904.3,rx:1009.5,cy:989.7,r:88.2,counts:vennTfCounts,numX:[886,958.7,1040],numY:995,tlx:874.3,trx:1065,t1:868,t2:893,ax:958.5,atip:1064,abase:1094,boxTop:1119,bx:820,bw:277,bh:110});
  [["FOXA1",880.7,1150],["GATA3",1023,1150],["CREB3L4",896.7,1182.5],["SPDEF",1023,1182.5],["ESRRG",960,1214.6]].forEach(r=>T(g,r[0],r[1],r[2],{size:26,italic:true}));
})();

/* ---------- PANEL d ---------- */
(function(){
  const g=svg.append("g");
  const x=d3.scaleLinear().domain([-8,6]).range([455.4-8*43.9,455.4+6*43.9]);
  const y=d3.scaleLinear().domain([0,15]).range([1189,779.7]);
  T(g,"RNAseq: transcription factors",405,716,{size:27,w:368});
  T(g,"post-treatment samples",405,750,{size:27,w:294});
  const ax=g.append("g").attr("transform",`translate(0,${y(0)})`).call(d3.axisBottom(x).tickValues(d3.range(-8,7)).tickSize(8).tickSizeOuter(0).tickPadding(9).tickFormat(fmt));
  styleAxis(ax,3.6,19);
  const ay=g.append("g").attr("transform",`translate(${x(0)},0)`).call(d3.axisLeft(y).tickValues([5,10,15]).tickSize(9).tickSizeOuter(0).tickPadding(4).tickFormat(fmt));
  styleAxis(ay,3.6,19);
  dots(g,tfOther,x,y,7.3,"#000");
  const off={THAP9:[0,-15.8],FOXA1:[20.3,-20],SPDEF:[-17.5,21],CREB3L4:[12.3,-22.6],ZIC2:[-16,-18.8],PAX9:[14.6,17],AKNA:[-21.2,-17.5],IRF8:[30.2,-7.7],TOX3:[-25.5,-16.7],ESRRG:[48.6,-13.7],PAX2:[-28.3,-12.4],SNAI3:[17.5,-18.8],SPIB:[29.3,-7.3],NFATC2:[-25,-21],GATA3:[-9.9,-18.4],HOXC12:[-45.3,-2],PAX5:[32.6,0],ESR1:[-30.2,-13.7]};
  tfNames.forEach((n,i)=>{
    const red=tfRed.includes(n);
    g.append("circle").attr("cx",x(tfFC[i])).attr("cy",y(tfP[i])).attr("r",7.3).attr("fill",red?RED:(n==="ESR1"?"#2b2b2b":"#000"));
    T(g,n,x(tfFC[i])+off[n][0],y(tfP[i])+off[n][1],{size:red?19.6:17.2,italic:true,fill:red?RED:"#000",dy:".35em"});
  });
  g.append("line").attr("x1",103).attr("x2",717).attr("y1",y(1.14)).attr("y2",y(1.14)).attr("stroke","#2a2a2a").attr("stroke-width",2.6).attr("stroke-dasharray","6 5");
  T(g,[{t:"log "},{t:"2",sub:true},{t:" fold change"}],417.6,1259.7,{size:23});
  T(g,"strongly responsive vs. weakly responsive",414,1290.5,{size:23,w:449});
  T(g,[{t:"-log"},{t:"10",sub:true},{t:"(P"},{t:"adj",sub:true},{t:"-value)"}],66,986,{size:30,bold:true,rot:-90}).selectAll("tspan").filter((d,i)=>i===3).attr("font-style","italic");
})();

/* ---------- PANEL f ---------- */
(function(){
  const g=svg.append("g");
  const x=d3.scaleBand().domain(matchedSamples).range([1266.45,1769.55]).paddingInner(.255).paddingOuter(.1275);
  const sub=d3.scaleBand().domain(matchedSeries).range([0,x.bandwidth()]);
  const y=d3.scaleLinear().domain([-10,5]).range([1154,816.7]);
  const col=d3.scaleOrdinal().domain(matchedSeries).range(["#0000c0","#008000","#c06400"]);
  const vals={HER2:matchedHER2,HER3:matchedHER3,PTK6:matchedPTK6};
  T(g,"RNAseq - matched patient samples",1525,740,{size:33,w:518});
  T(g,"post-treatment/pre-treatment",1525,783,{size:33,w:422});
  g.append("rect").attr("x",1654.7).attr("y",835.3).attr("width",118).attr("height",315).attr("fill","none").attr("stroke",BLUEDASH).attr("stroke-width",3).attr("stroke-dasharray","9 6");
  matchedSeries.forEach(s=>{
    g.selectAll(null).data(matchedSamples).join("rect")
      .attr("x",d=>x(d)+sub(s)).attr("width",sub.bandwidth())
      .attr("y",(d,i)=>y(Math.max(0,vals[s][i]))).attr("height",(d,i)=>Math.abs(y(vals[s][i])-y(0))).attr("fill",col(s));
  });
  matchedSamples.forEach(s=>T(g,s,x(s)+x.bandwidth()/2,860.5,{size:11.3,bold:true}));
  const ay=g.append("g").attr("transform","translate(1266.6,0)").call(d3.axisLeft(y).tickValues([5,0,-5,-10]).tickSize(6).tickSizeOuter(0).tickPadding(5).tickFormat(fmt));
  styleAxis(ay,2.6,17);
  ay.selectAll("text").attr("dy","0.55em");
  g.append("line").attr("x1",1266).attr("x2",1773).attr("y1",y(0)).attr("y2",y(0)).attr("stroke","#000").attr("stroke-width",2.6);
  T(g,[{t:"log"},{t:"2",sub:true},{t:"  fold change"}],1211,979,{size:20.5,rot:-90});
  matchedSeries.forEach((s,i)=>{
    const yy=[996.7,1028.7,1059.3][i];
    g.append("rect").attr("x",1376).attr("y",yy).attr("width",19.5).attr("height",20).attr("fill",col(s));
    T(g,s,1408,yy+18.5,{size:25.5,italic:true,anchor:"start"});
  });
})();

/* ---------- PANEL g ---------- */
(function(){
  const g=svg.append("g");
  const rows=mibGenes.map((n,i)=>({n,"109":mib109[i],"116":mib116[i],"119":mib119[i],"121":mib121[i]}));
  const x=d3.scaleBand().domain(mibGenes).range([106.6,1789.6]).paddingInner(.16).paddingOuter(.08);
  const y=d3.scaleLinear().domain([-15,10]).range([1770,1513.7]);
  const col=d3.scaleOrdinal().domain(mibSamples).range(["#5b9bd5","#ed7d31","#a5a5a5","#ffc000"]);
  T(g,"MIB/MS: Post/pre kinome response",918.5,1378,{size:35,bold:true,w:604});
  T(g,"Strongly molecular responsive samples (n=4) versus all others (n=11) average",919.5,1408,{size:17.5,bold:true,w:715});
  [5,-5,-10].forEach(v=>g.append("line").attr("x1",107).attr("x2",1790).attr("y1",y(v)).attr("y2",y(v)).attr("stroke","#000").attr("stroke-width",3));
  const stack=d3.stack().keys(mibSamples).offset(d3.stackOffsetDiverging)(rows);
  stack.forEach(s=>{
    g.selectAll(null).data(s).join("rect").attr("x",d=>x(d.data.n)).attr("width",x.bandwidth())
      .attr("y",d=>y(Math.max(d[0],d[1]))).attr("height",d=>Math.abs(y(d[0])-y(d[1]))).attr("fill",col(s.key));
  });
  g.append("line").attr("x1",107).attr("x2",1790).attr("y1",y(0)).attr("y2",y(0)).attr("stroke","#d9d9d9").attr("stroke-width",3.5);
  g.append("rect").attr("x",107.3).attr("y",1513.7).attr("width",1682.7).attr("height",256.3).attr("fill","none").attr("stroke","#000").attr("stroke-width",2.8);
  const ay=g.append("g").attr("transform","translate(107,0)").call(d3.axisLeft(y).tickValues([10,5,0,-5,-10,-15]).tickSize(0).tickPadding(15).tickFormat(fmt));
  ay.select("path.domain").remove();
  ay.selectAll("text").attr("font-size",17).attr("font-weight","bold").attr("fill","#595959").attr("font-family",'"Liberation Sans"');
  mibGenes.forEach(n=>{
    const xc=x(n)+x.bandwidth()/2;
    const t=T(g,n,xc,1504,{size:14.3,anchor:"start",rot:-90,fill:"#595959",dy:".36em"});
    if(mibBoxed.includes(n)){
      const len=t.node().getComputedTextLength();
      g.append("rect").attr("x",xc-11.5).attr("y",1504-len-6.5).attr("width",23).attr("height",len+12.5).attr("fill","none").attr("stroke",RED).attr("stroke-width",2.6);
    }
  });
  T(g,[{t:"log"},{t:"2",sub:true},{t:" difference"}],47,1634,{size:32.5,bold:true,rot:-90});
  g.append("rect").attr("x",769.5).attr("y",1784).attr("width",320).attr("height",32.5).attr("fill","#fff").attr("stroke","#000").attr("stroke-width",3);
  const lx=[786,864,942,1019];
  mibSamples.forEach((s,i)=>{
    g.append("rect").attr("x",lx[i]).attr("y",1794).attr("width",13.5).attr("height",13).attr("fill",col(s));
    T(g,s,lx[i]+20,1808,{size:26,bold:true,anchor:"start",fill:"#595959",w:40.5});
  });
})();

/* ---------- PANELS h, i, j ---------- */
function scatter(c){
  const g=svg.append("g");
  T(g,c.title,c.cx,1868,{size:21.5,bold:true});
  T(g,"post-treatment/pre-treatment",c.cx,1895,{size:20.5,bold:true,w:292});
  const ax=g.append("g").attr("transform",`translate(0,${c.y(0)})`).call(d3.axisBottom(c.x).tickValues(c.xt).tickSize(6).tickSizeOuter(0).tickPadding(4).tickFormat(fmt));
  styleAxis(ax,3,14);
  const ay=g.append("g").attr("transform",`translate(${c.x(0)},0)`).call(d3.axisLeft(c.y).tickValues(c.yt).tickSize(6).tickSizeOuter(0).tickPadding(2).tickFormat(fmt));
  styleAxis(ay,3,14);
  dots(g,c.other,c.x,c.y,c.r,"#000");
  c.named.forEach(n=>{
    g.append("circle").attr("cx",c.x(n[1])).attr("cy",c.y(n[2])).attr("r",c.r).attr("fill","#000");
  });
  (c.leaders||[]).forEach(l=>g.append("line").attr("x1",c.x(l.p[0])).attr("y1",c.y(l.p[1])).attr("x2",c.x(l.p[0])+l.d[0]).attr("y2",c.y(l.p[1])+l.d[1]).attr("stroke",l.c).attr("stroke-width",2));
  c.highlight.forEach((h,i)=>{
    const fill=h[0]==="DDR1"?ORANGE:GREEN;
    g.append("circle").attr("cx",c.x(h[1])).attr("cy",c.y(h[2])).attr("r",c.r-.4).attr("fill",fill);
    const o=c.off[h[0]];
    T(g,h[0],c.x(h[1])+o[0],c.y(h[2])+o[1],{size:20.7,fill,dy:".35em"});
  });
  c.named.forEach(n=>{const o=c.off[n[0]];T(g,n[0],c.x(n[1])+o[0],c.y(n[2])+o[1],{size:20.7,dy:".35em"});});
  (c.extra||[]).forEach(e=>T(g,e.n,c.x(e.p[0])+e.d[0],c.y(e.p[1])+e.d[1],{size:20.7,dy:".35em"}));
  T(g,"RNAseq",c.y1,2097,{size:17.5,bold:true,rot:-90});
  T(g,[{t:"log"},{t:"2",sub:true},{t:" fold change"}],c.y2,2097,{size:17.5,bold:true,rot:-90});
  T(g,"MIB binding",c.cx,2265,{size:17,bold:true});
  T(g,[{t:"log"},{t:"2",sub:true},{t:" fold change"}],c.cx,2282,{size:17,bold:true});
  return g;
}
const zip=(n,a,b)=>n.map((s,i)=>[s,a[i],b[i]]);
scatter({title:"116",cx:344,y1:85,y2:105,r:7.3,
  x:d3.scaleLinear().domain([-5,7]).range([130.4,556.5]),y:d3.scaleLinear().domain([-4,6]).range([2212.7,1927.7]),
  xt:[-5,-4,-3,-2,-1,1,2,3,4,5,6,7],yt:[-4,-2,2,4,6],other:s116Other,named:zip(s116Named,s116NamedX,s116NamedY),highlight:s116Highlight,
  off:{FGR:[34.8,-8.3],CSF1R:[22,-20.3],FYN:[-1.2,-21.7],DDR1:[-39,2.7],CDK1:[7,39.7]},
  extra:[{n:"LCK",p:[1.6,2.67],d:[27.7,13.7]},{n:"SYK",p:[3.05,2.8],d:[26.9,15.3]}]});
scatter({title:"119",cx:899.4,y1:645,y2:666,r:7,
  x:d3.scaleLinear().domain([-5,8]).range([685.8,1112.9]),y:d3.scaleLinear().domain([-10,10]).range([2239.3,1955]),
  xt:[-5,-4,-3,-2,-1,1,2,3,4,5,6,7,8],yt:[-10,-5,5,10],other:s119Other,named:zip(s119Named,s119NamedX,s119NamedY),highlight:s119Highlight,
  off:{BLK:[27.6,-17],CSF1R:[42,-45],LCK:[1,-21],DDR1:[-23,19.3],CDK1:[45,17.7]},
  leaders:[{p:[3.37,2.7],d:[30.6,-32.7],c:"#222"}]});
scatter({title:"120",cx:1520.4,y1:1258,y2:1279,r:7.3,
  x:d3.scaleLinear().domain([-3,6]).range([1306.2,1734]),y:d3.scaleLinear().domain([-2,3]).range([2211,1925]),
  xt:[-3,-2,-1,1,2,3,4,5,6],yt:[-2,-1,1,2,3],other:s120Other,named:zip(s120Named,s120NamedX,s120NamedY),highlight:s120Highlight,
  off:{BLK:[31.6,1],SYK:[32.7,-2.7],DDR1:[-77,-83],CDK1:[-58.4,-54.3]},
  leaders:[{p:[.15,1.03],d:[-54.6,-42.7],c:GREEN},{p:[-.85,.09],d:[-62,-72.3],c:ORANGE}],
  extra:[{n:"LCK",p:s120Lck,d:[20.4,-17]}]});
</script></body></html>
